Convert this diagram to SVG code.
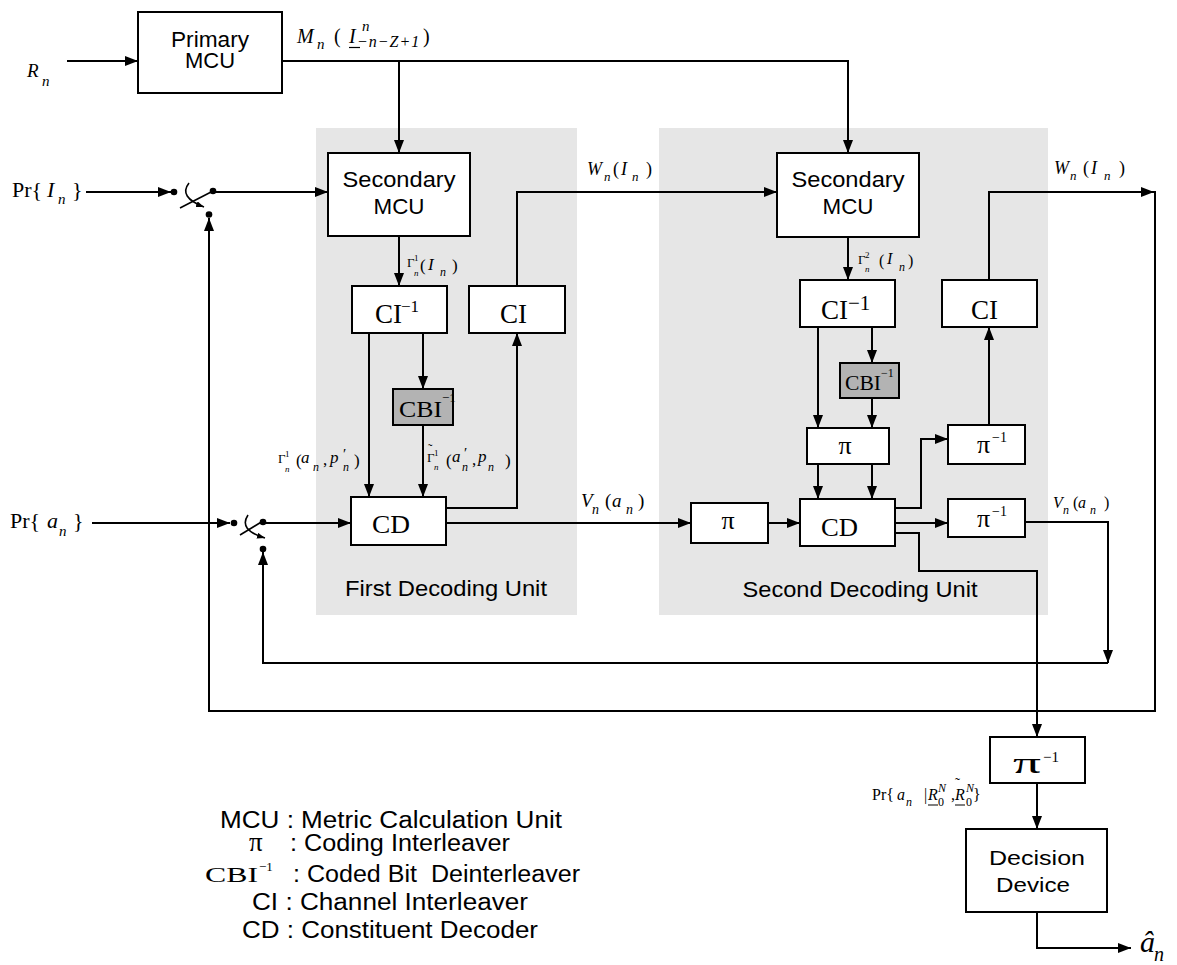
<svg xmlns="http://www.w3.org/2000/svg" width="1177" height="965" viewBox="0 0 1177 965">
<defs>
<marker id="ah" viewBox="0 0 13 10" refX="13" refY="5" markerWidth="13" markerHeight="10" markerUnits="userSpaceOnUse" orient="auto"><path d="M0,0 L13,5 L0,10 z" fill="#000"/></marker>
<marker id="ahs" viewBox="0 0 8 6" refX="8" refY="3" markerWidth="8" markerHeight="6" markerUnits="userSpaceOnUse" orient="auto"><path d="M0,0 L8,3 L0,6 z" fill="#000"/></marker>
</defs>
<style>
.bx{fill:#fff;stroke:#000;stroke-width:2}
.gb{fill:#b3b3b3;stroke:#000;stroke-width:2}
.ln{fill:none;stroke:#000;stroke-width:2}
.ar{marker-end:url(#ah)}
.sw{fill:none;stroke:#000;stroke-width:1.6}
.sa{marker-end:url(#ahs)}
.sans{font-family:"Liberation Sans",Arial,sans-serif;fill:#000}
.ser{font-family:"Liberation Serif","Times New Roman",serif;fill:#000}
.it{font-style:italic}
.unit{fill:#e6e6e6}
.pre{white-space:pre}
</style>
<rect width="1177" height="965" fill="#fff"/>

<g id="units">
<rect class="unit" x="316" y="128" width="261" height="487"/>
<rect class="unit" x="659" y="128" width="389" height="487"/>
<text class="sans" x="446" y="596" font-size="22" text-anchor="middle" textLength="202" lengthAdjust="spacingAndGlyphs">First Decoding Unit</text>
<text class="sans" x="860" y="597" font-size="22" text-anchor="middle" textLength="235" lengthAdjust="spacingAndGlyphs">Second Decoding Unit</text>
</g>

<g id="connectors">
<path class="ln ar" d="M67,61 H138"/>
<path class="ln ar" d="M282,61 H848 V153"/>
<path class="ln ar" d="M399,61 V153"/>
<path class="ln ar" d="M86,192 H171"/>
<path class="ln ar" d="M213,192 H328"/>
<path class="ln ar" d="M399,236 V286"/>
<path class="ln ar" d="M369,333 V497"/>
<path class="ln ar" d="M423,333 V389"/>
<path class="ln ar" d="M423,425 V497"/>
<path class="ln ar" d="M446,508 H517 V333"/>
<path class="ln ar" d="M517,286 V192 H777"/>
<path class="ln ar" d="M446,523 H691"/>
<path class="ln ar" d="M768,523 H800"/>
<path class="ln ar" d="M848,237 V280"/>
<path class="ln ar" d="M818,327 V428"/>
<path class="ln ar" d="M872,327 V363"/>
<path class="ln ar" d="M872,398 V428"/>
<path class="ln ar" d="M818,464 V499"/>
<path class="ln ar" d="M872,464 V499"/>
<path class="ln ar" d="M895,508 H921 V439 H948"/>
<path class="ln ar" d="M989,425 V327"/>
<path class="ln ar" d="M989,280 V192 H1154"/>
<path class="ln ar" d="M1155,191 V711 H209 V218"/>
<path class="ln ar" d="M895,523 H948"/>
<path class="ln ar" d="M1025,522 H1108 V663"/>
<path class="ln ar" d="M1108,663 H263 V552"/>
<path class="ln ar" d="M895,533 H919 V571 H1037 V737"/>
<path class="ln ar" d="M1037,783 V829"/>
<path class="ln ar" d="M1037,912 V948 H1131"/>
<path class="ln ar" d="M92,523 H230"/>
<path class="ln ar" d="M263,523 H351"/>
</g>

<g id="switch1">
<circle cx="174" cy="192" r="3.3"/>
<circle cx="213" cy="191" r="3.3"/>
<circle cx="209" cy="214.5" r="3.3"/>
<path class="sw" d="M180,208 L213,191"/>
<path class="sw sa" d="M189,183 Q178,197 204,207"/>
</g>

<g id="switch2">
<circle cx="234" cy="523" r="3.3"/>
<circle cx="263" cy="522" r="3.3"/>
<circle cx="263" cy="549" r="3.3"/>
<path class="sw" d="M240,535 L263,521"/>
<path class="sw sa" d="M248,515 Q238,530 265,538"/>
</g>

<g id="primary-mcu">
<rect class="bx" x="138" y="12" width="144" height="81"/>
<text class="sans" x="210" y="47" font-size="22" text-anchor="middle" textLength="78" lengthAdjust="spacingAndGlyphs">Primary</text>
<text class="sans" x="210" y="68" font-size="22" text-anchor="middle" textLength="50" lengthAdjust="spacingAndGlyphs">MCU</text>
</g>

<g id="secondary-mcu-1">
<rect class="bx" x="328" y="153" width="142" height="83"/>
<text class="sans" x="399" y="187" font-size="22" text-anchor="middle" textLength="113" lengthAdjust="spacingAndGlyphs">Secondary</text>
<text class="sans" x="399" y="214" font-size="22" text-anchor="middle" textLength="51" lengthAdjust="spacingAndGlyphs">MCU</text>
</g>

<g id="ci-inv-1">
<rect class="bx" x="352" y="286" width="95" height="47"/>
<text class="ser" x="375" y="323" font-size="27">CI<tspan x="401" y="312" font-size="17">−1</tspan></text>
</g>

<g id="ci-1">
<rect class="bx" x="469" y="286" width="96" height="47"/>
<text class="ser" x="500" y="323" font-size="27">CI</text>
</g>

<g id="cbi-inv-1">
<rect class="gb" x="393" y="389" width="60" height="36"/>
<text class="ser" x="399" y="417" font-size="23" textLength="43" lengthAdjust="spacingAndGlyphs">CBI</text>
<text class="ser" x="442" y="402" font-size="13">−1</text>
</g>

<g id="cd-1">
<rect class="bx" x="351" y="497" width="95" height="48"/>
<text class="ser" x="372" y="533" font-size="25" textLength="38" lengthAdjust="spacingAndGlyphs">CD</text>
</g>

<g id="secondary-mcu-2">
<rect class="bx" x="777" y="153" width="142" height="84"/>
<text class="sans" x="848" y="187" font-size="22" text-anchor="middle" textLength="113" lengthAdjust="spacingAndGlyphs">Secondary</text>
<text class="sans" x="848" y="214" font-size="22" text-anchor="middle" textLength="51" lengthAdjust="spacingAndGlyphs">MCU</text>
</g>

<g id="ci-inv-2">
<rect class="bx" x="800" y="280" width="95" height="47"/>
<text class="ser" x="821" y="319" font-size="27">CI<tspan x="848" y="310" font-size="21">−1</tspan></text>
</g>

<g id="ci-2">
<rect class="bx" x="942" y="280" width="95" height="47"/>
<text class="ser" x="971" y="319" font-size="27">CI</text>
</g>

<g id="cbi-inv-2">
<rect class="gb" x="840" y="363" width="59" height="35"/>
<text class="ser" x="845" y="390" font-size="20" textLength="36" lengthAdjust="spacingAndGlyphs">CBI</text>
<text class="ser" x="881" y="377" font-size="12">−1</text>
</g>

<g id="pi-upper">
<rect class="bx" x="807" y="428" width="82" height="36"/>
<text class="ser" x="845" y="454" font-size="26" text-anchor="middle">π</text>
</g>

<g id="pi-inv-upper">
<rect class="bx" x="948" y="425" width="77" height="39"/>
<text class="ser" x="977" y="453" font-size="26">π</text>
<text class="ser" x="992" y="442" font-size="14">−1</text>
</g>

<g id="pi-lower">
<rect class="bx" x="691" y="503" width="77" height="40"/>
<text class="ser" x="728" y="529" font-size="26" text-anchor="middle">π</text>
</g>

<g id="cd-2">
<rect class="bx" x="800" y="499" width="95" height="47"/>
<text class="ser" x="821" y="536" font-size="26" textLength="37" lengthAdjust="spacingAndGlyphs">CD</text>
</g>

<g id="pi-inv-lower">
<rect class="bx" x="948" y="499" width="77" height="38"/>
<text class="ser" x="977" y="527" font-size="26">π</text>
<text class="ser" x="992" y="516" font-size="14">−1</text>
</g>

<g id="pi-inv-bottom">
<rect class="bx" x="990" y="737" width="95" height="46"/>
<text class="ser" x="1013" y="773" font-size="30" textLength="28" lengthAdjust="spacingAndGlyphs">π</text>
<text class="ser" x="1043" y="762" font-size="15">−1</text>
</g>

<g id="decision-device">
<rect class="bx" x="966" y="829" width="141" height="83"/>
<text class="sans" x="1037" y="865" font-size="20" text-anchor="middle" textLength="96" lengthAdjust="spacingAndGlyphs">Decision</text>
<text class="sans" x="1033" y="892" font-size="20" text-anchor="middle" textLength="74" lengthAdjust="spacingAndGlyphs">Device</text>
</g>

<g id="labels" class="ser">
<text font-size="19"><tspan class="it" x="27" y="77">R</tspan><tspan class="it" x="42" y="86" font-size="15">n</tspan></text>

<text font-size="20"><tspan class="it" x="297" y="43">M</tspan><tspan class="it" x="317" y="49" font-size="15">n</tspan><tspan x="334" y="43">(</tspan><tspan class="it" x="349" y="43">I</tspan><tspan class="it" x="362" y="31" font-size="15">n</tspan><tspan class="it" x="357" y="47" font-size="16" letter-spacing="1">−n−Z+1</tspan><tspan x="423" y="43">)</tspan></text>
<path d="M349,47.5 H360" stroke="#000" stroke-width="1.2"/>

<text font-size="22"><tspan x="12" y="197">Pr{</tspan><tspan class="it" x="47" y="197">I</tspan><tspan class="it" x="58" y="204" font-size="15">n</tspan><tspan x="72" y="197">}</tspan></text>

<text font-size="22"><tspan x="10" y="528">Pr{</tspan><tspan class="it" x="47" y="528">a</tspan><tspan class="it" x="59" y="536" font-size="15">n</tspan><tspan x="73" y="528">}</tspan></text>

<text font-size="18"><tspan class="it" x="587" y="175">W</tspan><tspan class="it" x="604" y="181" font-size="13">n</tspan><tspan x="613" y="175">(</tspan><tspan class="it" x="621" y="175">I</tspan><tspan class="it" x="632" y="181" font-size="13">n</tspan><tspan x="646" y="175">)</tspan></text>

<text font-size="18"><tspan class="it" x="1054" y="174">W</tspan><tspan class="it" x="1070" y="180" font-size="13">n</tspan><tspan x="1083" y="174">(</tspan><tspan class="it" x="1091" y="174">I</tspan><tspan class="it" x="1104" y="180" font-size="13">n</tspan><tspan x="1119" y="174">)</tspan></text>

<text font-size="13"><tspan x="407" y="267">Γ</tspan><tspan x="414" y="261" font-size="9">1</tspan><tspan class="it" x="414" y="276" font-size="9">n</tspan><tspan x="420" y="271" font-size="17">(</tspan><tspan class="it" x="428" y="270" font-size="17">I</tspan><tspan class="it" x="440" y="276" font-size="12">n</tspan><tspan x="452" y="271" font-size="17">)</tspan></text>

<text font-size="13"><tspan x="858" y="264">Γ</tspan><tspan x="865" y="258" font-size="9">2</tspan><tspan class="it" x="865" y="272" font-size="9">n</tspan><tspan x="879" y="266" font-size="16">(</tspan><tspan class="it" x="887" y="264" font-size="16">I</tspan><tspan class="it" x="899" y="271" font-size="12">n</tspan><tspan x="908" y="266" font-size="16">)</tspan></text>

<text font-size="13"><tspan x="278" y="463">Γ</tspan><tspan x="285" y="457" font-size="9">1</tspan><tspan class="it" x="285" y="472" font-size="9">n</tspan><tspan x="296" y="466" font-size="17">(</tspan><tspan class="it" x="301" y="463" font-size="17">a</tspan><tspan class="it" x="313" y="471" font-size="12">n</tspan><tspan x="323" y="465" font-size="17">,</tspan><tspan class="it" x="330" y="463" font-size="17">p</tspan><tspan x="343" y="459" font-size="15">′</tspan><tspan class="it" x="343" y="471" font-size="12">n</tspan><tspan x="354" y="466" font-size="17">)</tspan></text>

<text font-size="13"><tspan x="428" y="453">˜</tspan><tspan x="427" y="462">Γ</tspan><tspan x="434" y="456" font-size="9">1</tspan><tspan class="it" x="434" y="470" font-size="9">n</tspan><tspan x="446" y="466" font-size="17">(</tspan><tspan class="it" x="452" y="462" font-size="17">a</tspan><tspan x="464" y="458" font-size="15">′</tspan><tspan class="it" x="462" y="471" font-size="12">n</tspan><tspan x="472" y="465" font-size="17">,</tspan><tspan class="it" x="478" y="462" font-size="17">p</tspan><tspan class="it" x="488" y="471" font-size="12">n</tspan><tspan x="505" y="466" font-size="17">)</tspan></text>

<text font-size="19"><tspan class="it" x="581" y="507">V</tspan><tspan class="it" x="592" y="514" font-size="14">n</tspan><tspan x="605" y="507">(</tspan><tspan class="it" x="612" y="507">a</tspan><tspan class="it" x="626" y="514" font-size="14">n</tspan><tspan x="638" y="507">)</tspan></text>

<text font-size="16"><tspan class="it" x="1053" y="508">V</tspan><tspan class="it" x="1063" y="514" font-size="12">n</tspan><tspan x="1073" y="508">(</tspan><tspan class="it" x="1078" y="508">a</tspan><tspan class="it" x="1090" y="514" font-size="12">n</tspan><tspan x="1104" y="508">)</tspan></text>

<text font-size="16"><tspan x="872" y="800">Pr{</tspan><tspan class="it" x="897" y="800">a</tspan><tspan class="it" x="906" y="806" font-size="12">n</tspan><tspan x="924" y="800">|</tspan><tspan class="it" x="928" y="800">R</tspan><tspan class="it" x="938" y="792" font-size="12">N</tspan><tspan x="938" y="806" font-size="12">0</tspan><tspan x="951" y="800">,</tspan><tspan x="955" y="788" font-size="15">˜</tspan><tspan class="it" x="955" y="800">R</tspan><tspan class="it" x="966" y="792" font-size="12">N</tspan><tspan x="966" y="806" font-size="12">0</tspan><tspan x="973" y="800">}</tspan></text>
<path d="M928,805 H938 M955,805 H965" stroke="#000" stroke-width="1.2"/>

<text font-size="30"><tspan class="it" x="1140" y="952">â</tspan><tspan class="it" x="1154" y="961" font-size="20">n</tspan></text>
</g>

<g id="legend">
<text class="sans" x="220" y="828" font-size="23" textLength="342" lengthAdjust="spacingAndGlyphs">MCU : Metric Calculation Unit</text>
<text class="ser" x="249" y="851" font-size="27">π</text>
<text class="sans" x="290" y="851" font-size="23" textLength="220" lengthAdjust="spacingAndGlyphs">: Coding Interleaver</text>
<text class="ser" x="205" y="882" font-size="21" textLength="53" lengthAdjust="spacingAndGlyphs">CBI</text>
<text class="ser" x="259" y="871" font-size="13">−1</text>
<text class="sans pre" x="293" y="882" font-size="23" textLength="287" lengthAdjust="spacingAndGlyphs">: Coded Bit  Deinterleaver</text>
<text class="sans" x="252" y="910" font-size="23" textLength="276" lengthAdjust="spacingAndGlyphs">CI : Channel Interleaver</text>
<text class="sans" x="242" y="938" font-size="23" textLength="296" lengthAdjust="spacingAndGlyphs">CD : Constituent Decoder</text>
</g>
</svg>
